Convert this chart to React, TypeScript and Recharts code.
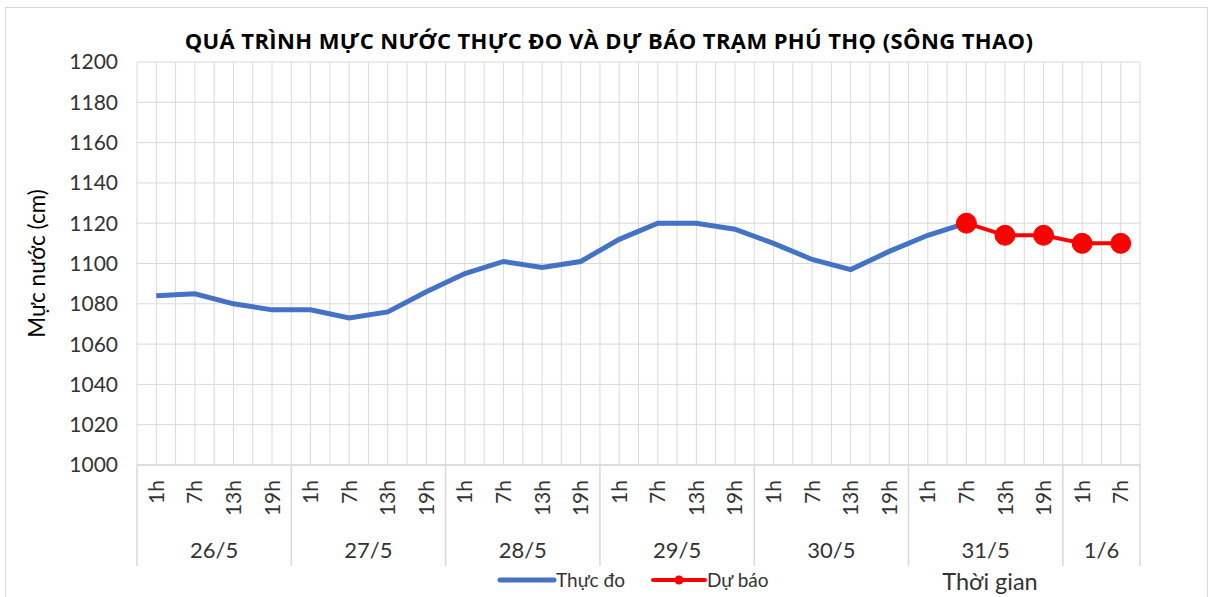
import { CartesianGrid, Legend, Line, LineChart, XAxis, YAxis } from "recharts";

const dayNames = ["26/5", "27/5", "28/5", "29/5", "30/5", "31/5", "1/6"];
const dayCounts = [4, 4, 4, 4, 4, 4, 2];
const hourLabels = [
  "1h", "7h", "13h", "19h",
  "1h", "7h", "13h", "19h",
  "1h", "7h", "13h", "19h",
  "1h", "7h", "13h", "19h",
  "1h", "7h", "13h", "19h",
  "1h", "7h", "13h", "19h",
  "1h", "7h",
];
// thực đo: 26/5 1h -> 31/5 7h
const observed = [
  1084, 1085, 1080, 1077,
  1077, 1073, 1076, 1086,
  1095, 1101, 1098, 1101,
  1112, 1120, 1120, 1117,
  1110, 1102, 1097, 1106,
  1114, 1120,
];
// dự báo: 31/5 7h -> 1/6 7h
const forecast = [1120, 1114, 1114, 1110, 1110];
const forecastStart = 21;
const yTicks = [1000, 1020, 1040, 1060, 1080, 1100, 1120, 1140, 1160, 1180, 1200];

const W = 1211;
const H = 597;
const FONT = "Lato, 'Open Sans', sans-serif";
const TEXT = "#333333";
const GRID = "#d9d9d9";

const data = hourLabels.map((hour, i) => ({
  x: i + 0.5,
  hour,
  observed: i < observed.length ? observed[i] : null,
  forecast: i >= forecastStart ? forecast[i - forecastStart] : null,
}));

const xTicks = Array.from({ length: hourLabels.length * 2 + 1 }, (_, k) => k / 2);

// ranh giới ngày và tâm nhóm ngày (theo đơn vị trục x)
const dayBounds: number[] = [0];
dayCounts.forEach((c) => dayBounds.push(dayBounds[dayBounds.length - 1] + c));
const dayCenters = new Map<number, string>();
dayCounts.forEach((c, i) => dayCenters.set(dayBounds[i] + c / 2, dayNames[i]));

function XTick(props: any) {
  const { x, y, payload } = props;
  const v: number = payload.value;
  const out: any[] = [];
  if (v % 1 === 0.5) {
    const label = hourLabels[v - 0.5];
    const ty = y + 15;
    out.push(
      <text
        key="h"
        x={x}
        y={ty}
        dy="0.36em"
        transform={`rotate(-90, ${x}, ${ty})`}
        textAnchor="end"
        fontSize={21}
        fontFamily={FONT}
        fill={TEXT}
      >
        {label}
      </text>
    );
  }
  if (dayBounds.includes(v)) {
    out.push(<line key="s" x1={x} x2={x} y1={y} y2={y + 101} stroke={GRID} strokeWidth={1.5} />);
  }
  const day = dayCenters.get(v);
  if (day) {
    out.push(
      <text key="d" x={x} y={y + 85} dy="0.36em" textAnchor="middle" fontSize={22} fontFamily={FONT} fill={TEXT}>
        {day}
      </text>
    );
  }
  return <g>{out}</g>;
}

function YLabel(props: any) {
  const { viewBox } = props;
  const cx = 37;
  const cy = viewBox.y + viewBox.height / 2;
  return (
    <text
      x={cx}
      y={cy}
      dy="0.36em"
      transform={`rotate(-90, ${cx}, ${cy})`}
      textAnchor="middle"
      fontSize={22.5}
      fontFamily={FONT}
      fill="#000"
    >
      Mực nước (cm)
    </text>
  );
}

function LegendBox() {
  return (
    <svg width={300} height={30} style={{ display: "block" }}>
      <line x1={3} x2={57} y1={13} y2={13} stroke="#4472C4" strokeWidth={5} strokeLinecap="round" />
      <text x={59} y={13} dy="0.36em" fontSize={19} fontFamily={FONT} fill={TEXT}>
        Thực đo
      </text>
      <line x1={156} x2={208} y1={13} y2={13} stroke="#FF0000" strokeWidth={4} strokeLinecap="round" />
      <circle cx={182} cy={13} r={4.5} fill="#FF0000" />
      <text x={210} y={13} dy="0.36em" fontSize={19} fontFamily={FONT} fill={TEXT}>
        Dự báo
      </text>
    </svg>
  );
}

export default function App() {
  return (
    <div
      style={{
        position: "absolute",
        left: 0,
        top: 0,
        width: W,
        height: H,
        background: "#fff",
        overflow: "hidden",
        fontFamily: FONT,
      }}
    >
      <div
        style={{
          position: "absolute",
          left: 5,
          top: 7,
          width: 1203,
          height: 620,
          border: `1.5px solid ${GRID}`,
          boxSizing: "border-box",
        }}
      />
      <div
        style={{
          position: "absolute",
          left: 0,
          width: 1218,
          top: 26,
          textAlign: "center",
          fontFamily: "'Open Sans', sans-serif",
          fontWeight: 700,
          fontSize: 22,
          letterSpacing: 0.4,
          color: "#000",
          lineHeight: "28px",
        }}
      >
        QUÁ TRÌNH MỰC NƯỚC THỰC ĐO VÀ DỰ BÁO TRẠM PHÚ THỌ (SÔNG THAO)
      </div>
      <div
        style={{
          position: "absolute",
          left: 930,
          width: 120,
          top: 567,
          textAlign: "center",
          fontSize: 23.5,
          color: TEXT,
          lineHeight: "28px",
        }}
      >
        Thời gian
      </div>
      <div style={{ position: "absolute", left: 0, top: 0 }}>
        <LineChart width={W} height={H} data={data} margin={{ top: 62, right: 71, left: 0, bottom: 0 }}>
          <CartesianGrid stroke={GRID} strokeWidth={1} />
          <XAxis
            dataKey="x"
            type="number"
            domain={[0, hourLabels.length]}
            ticks={xTicks}
            interval={0}
            height={132}
            tickSize={0}
            tickMargin={0}
            tickLine={false}
            axisLine={{ stroke: GRID, strokeWidth: 1.5 }}
            tick={<XTick />}
          />
          <YAxis
            domain={[1000, 1200]}
            ticks={yTicks}
            interval={0}
            width={137}
            tickSize={0}
            tickMargin={19}
            tickLine={false}
            axisLine={false}
            tick={{ fontSize: 21, fontFamily: FONT, fill: TEXT }}
            label={<YLabel />}
          />
          <Legend
            layout="horizontal"
            verticalAlign="middle"
            align="center"
            content={<LegendBox />}
            wrapperStyle={{ left: 497, top: 567, width: 300, height: 30 }}
          />
          <Line
            dataKey="observed"
            name="Thực đo"
            stroke="#4472C4"
            strokeWidth={5}
            dot={false}
            activeDot={false}
            isAnimationActive={false}
          />
          <Line
            dataKey="forecast"
            name="Dự báo"
            stroke="#FF0000"
            strokeWidth={4}
            dot={{ r: 10, fill: "#FF0000", stroke: "#FF0000", strokeWidth: 1 }}
            activeDot={false}
            isAnimationActive={false}
          />
        </LineChart>
      </div>
    </div>
  );
}
